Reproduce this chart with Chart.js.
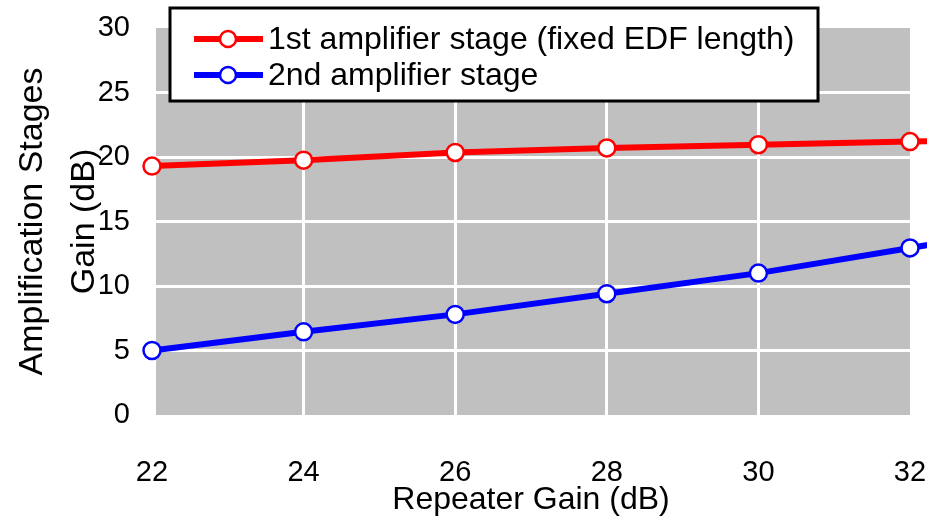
<!DOCTYPE html>
<html>
<head>
<meta charset="utf-8">
<script src="https://cdn.jsdelivr.net/npm/chart.js@4.4.1/dist/chart.umd.min.js"></script>
<style>
  html, body { margin: 0; padding: 0; background: #fff; overflow: hidden; }
  #wrap { width: 949px; height: 522px; }
  canvas { display: block; }
</style>
</head>
<body>
<div id="wrap"><canvas id="gainChart" width="927" height="522"></canvas></div>
<script>
// Repeater gain (dB) on the x axis; the last value sits just past the cropped edge
const repeaterGain = [22, 24, 26, 28, 30, 32, 34];
const firstStage = [19.3, 19.75, 20.35, 20.7, 20.95, 21.2, 21.45];
const secondStage = [5.0, 6.45, 7.8, 9.4, 11.0, 12.95, 14.9];
const seriesLabels = ['1st amplifier stage (fixed EDF length)', '2nd amplifier stage'];
const yTicks = [0, 5, 10, 15, 20, 25, 30];
const xTicks = [22, 24, 26, 28, 30, 32];

const FONT = "'Liberation Sans', Arial, sans-serif";

const toPoints = (vals) => repeaterGain.map((x, i) => ({ x: x, y: vals[i] }));

// grey plot background
const plotBg = {
    id: 'plotBg',
    beforeDraw(chart) {
        const { ctx, chartArea: a } = chart;
        ctx.save();
        ctx.fillStyle = '#c0c0c0';
        ctx.fillRect(a.left + 4, a.top, a.right - a.left - 4, a.bottom - a.top);
        ctx.restore();
    }
};

// boxed legend drawn over the top of the plot
const boxLegend = {
    id: 'boxLegend',
    afterDraw(chart) {
        const ctx = chart.ctx;
        const bx = 170, by = 8, bw = 648, bh = 93;
        ctx.save();
        ctx.fillStyle = '#fff';
        ctx.fillRect(bx, by, bw, bh);
        ctx.lineWidth = 3;
        ctx.strokeStyle = '#000';
        ctx.strokeRect(bx, by, bw, bh);
        chart.data.datasets.forEach((ds, i) => {
            const y = by + 31 + i * 36;
            ctx.strokeStyle = ds.borderColor;
            ctx.lineWidth = 6;
            ctx.beginPath();
            ctx.moveTo(194, y);
            ctx.lineTo(263, y);
            ctx.stroke();
            ctx.beginPath();
            ctx.arc(228, y, 8, 0, Math.PI * 2);
            ctx.fillStyle = '#fff';
            ctx.fill();
            ctx.lineWidth = 2.5;
            ctx.stroke();
            ctx.fillStyle = '#000';
            ctx.font = '32px ' + FONT;
            ctx.textBaseline = 'middle';
            ctx.fillText(ds.label, 268, y + 1);
        });
        ctx.restore();
    }
};

const edgeless = (c) => (c.index === 0 || c.index === c.scale.ticks.length - 1) ? 'rgba(0,0,0,0)' : '#fff';

new Chart(document.getElementById('gainChart').getContext('2d'), {
    type: 'line',
    data: {
        datasets: [
            {
                label: seriesLabels[0],
                data: toPoints(firstStage),
                borderColor: '#ff0000',
                borderWidth: 6,
                pointRadius: 8.5,
                pointBorderWidth: 2.5,
                pointBackgroundColor: '#fff',
                pointBorderColor: '#ff0000',
                clip: false
            },
            {
                label: seriesLabels[1],
                data: toPoints(secondStage),
                borderColor: '#0000ff',
                borderWidth: 6,
                pointRadius: 8.5,
                pointBorderWidth: 2.5,
                pointBackgroundColor: '#fff',
                pointBorderColor: '#0000ff',
                clip: false
            }
        ]
    },
    options: {
        responsive: false,
        animation: false,
        devicePixelRatio: 1,
        layout: { padding: { top: 28, right: 17, left: 0, bottom: 0 } },
        plugins: { legend: { display: false }, tooltip: { enabled: false } },
        scales: {
            x: {
                type: 'linear',
                // range set after data limits so the point past 32 still gets drawn
                afterDataLimits: (s) => { s.min = xTicks[0]; s.max = xTicks[xTicks.length - 1]; },
                afterBuildTicks: (s) => { s.ticks = xTicks.map(v => ({ value: v })); },
                afterFit: (s) => { s.height = 107; s.paddingLeft = 0; s.paddingRight = 0; },
                border: { display: false },
                grid: { color: edgeless, lineWidth: 3, drawTicks: false },
                ticks: { color: '#000', font: { family: FONT, size: 29 }, padding: 41 },
                title: {
                    display: true,
                    text: 'Repeater Gain (dB)',
                    color: '#000',
                    font: { family: FONT, size: 32 },
                    padding: { top: 0, bottom: 3 }
                }
            },
            y: {
                min: yTicks[0],
                max: yTicks[yTicks.length - 1],
                afterBuildTicks: (s) => { s.ticks = yTicks.map(v => ({ value: v })); },
                afterFit: (s) => { s.width = 152; s.paddingTop = 0; s.paddingBottom = 0; },
                border: { display: false },
                grid: { color: edgeless, lineWidth: 3, drawTicks: false },
                ticks: { color: '#000', font: { family: FONT, size: 29 }, padding: 22 },
                title: {
                    display: true,
                    text: ['Amplification Stages', 'Gain (dB)'],
                    color: '#000',
                    font: { family: FONT, size: 34, lineHeight: 1.53 },
                    padding: { top: 7, bottom: 0 }
                }
            }
        }
    },
    plugins: [plotBg, boxLegend]
});
</script>
</body>
</html>
